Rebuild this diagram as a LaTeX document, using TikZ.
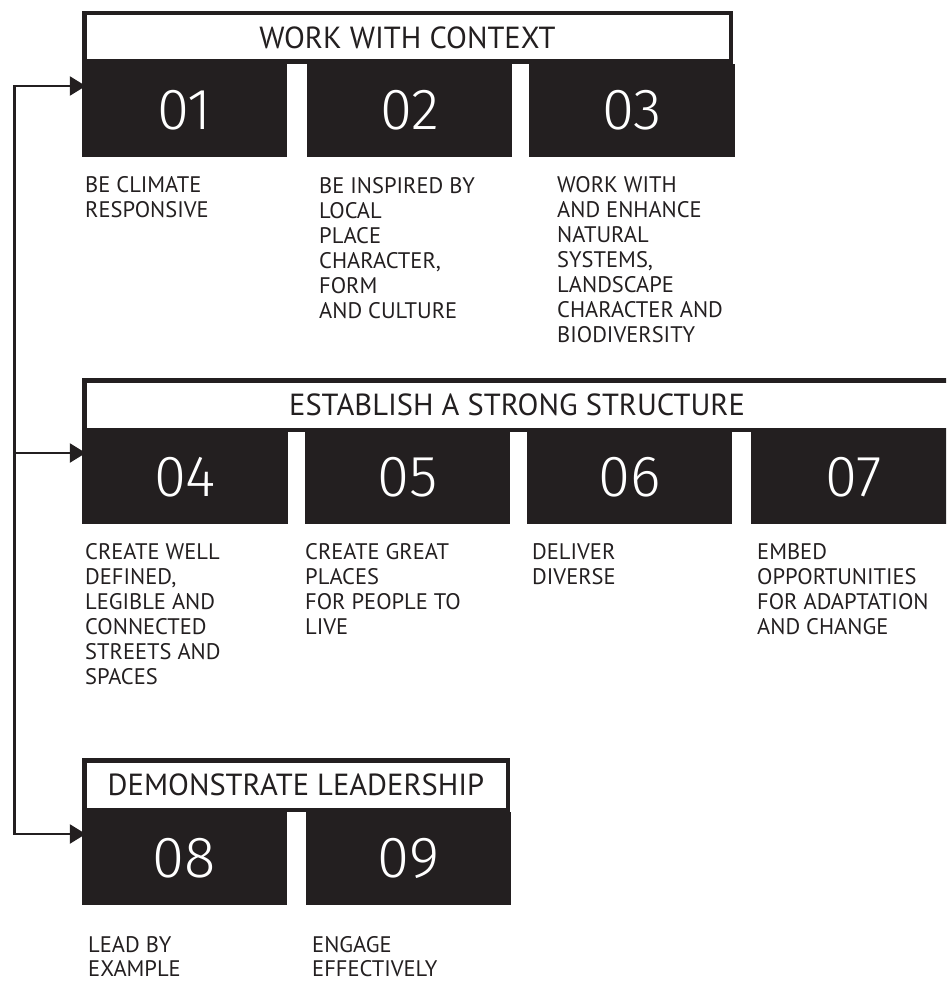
\documentclass[tikz,border=0pt]{standalone}
\usepackage{fontspec}
\setmainfont{PT Sans}
\newfontfamily\numfont{Fira Sans}[UprightFont=* Light]
\usetikzlibrary{arrows.meta}
\definecolor{ink}{HTML}{231F20}
\begin{document}
\begin{tikzpicture}[x=1pt,y=-1pt,
  hdr/.style={draw=ink, line width=4.5pt, fill=white, inner sep=0pt, text=ink, font=\fontsize{30.5}{36}\selectfont},
  numbox/.style={fill=ink, text=white, inner sep=0pt, minimum height=93pt, minimum width=205pt, font=\numfont\fontsize{58}{60}\selectfont},
  desc/.style={anchor=north west, inner sep=0pt, align=left, text=ink, font=\fontsize{22.5}{25}\selectfont},
  desc3/.style={desc, font=\fontsize{22.5}{24}\selectfont},
  link/.style={draw=ink, line width=2.5pt, line cap=rect},
  arr/.style={draw=ink, line width=2.5pt, -{Triangle[length=16pt,width=19pt]}, shorten >=-4pt}]
\clip (0,0) rectangle (946,982);
% row 1
\node[numbox] (b01) at (184.5,110.5) {01};
\node[numbox] (b02) at (409.5,110.5) {02};
\node[numbox, minimum width=206pt] (b03) at (632,110.5) {03};
\node[hdr, minimum width=646.5pt, minimum height=48.5pt] (h1) at (407.5,37.5) {WORK WITH CONTEXT};
\node[desc] (d01) at (85,176) {BE CLIMATE\\RESPONSIVE};
\node[desc] (d02) at (319,177) {BE INSPIRED BY\\LOCAL\\PLACE\\CHARACTER,\\FORM\\AND CULTURE};
\node[desc] (d03) at (557,176) {WORK WITH\\AND ENHANCE\\NATURAL\\SYSTEMS,\\LANDSCAPE\\CHARACTER AND\\BIODIVERSITY};
% row 2
\node[numbox, minimum height=92pt, minimum width=206pt] (b04) at (185,477.5) {04};
\node[numbox, minimum height=92pt] (b05) at (407.5,477.5) {05};
\node[numbox, minimum height=92pt] (b06) at (629.5,477.5) {06};
\node[numbox, minimum height=92pt, minimum width=206pt] (b07) at (854,477.5) {07};
\node[hdr, minimum width=865.5pt, minimum height=49.5pt] (h2) at (517,405) {ESTABLISH A STRONG STRUCTURE};
\node[desc] (d04) at (85,543) {CREATE WELL\\DEFINED,\\LEGIBLE AND\\CONNECTED\\STREETS AND\\SPACES};
\node[desc] (d05) at (305,543) {CREATE GREAT\\PLACES\\FOR PEOPLE TO\\LIVE};
\node[desc] (d06) at (532,543) {DELIVER\\DIVERSE};
\node[desc] (d07) at (757,543) {EMBED\\OPPORTUNITIES\\FOR ADAPTATION\\AND CHANGE};
% row 3
\node[numbox] (b08) at (184.5,858.5) {08};
\node[numbox] (b09) at (408.5,858.5) {09};
\node[hdr, minimum width=423.5pt, minimum height=49.5pt] (h3) at (296,785) {DEMONSTRATE LEADERSHIP};
\node[desc3] (d08) at (88,936) {LEAD BY\\EXAMPLE};
\node[desc3] (d09) at (312,936) {ENGAGE\\EFFECTIVELY};
% connectors
\coordinate (s1) at (14.5,86);
\coordinate (s2) at (14.5,453);
\coordinate (s3) at (14.5,834);
\draw[link] (s1) -- (s3);
\draw[arr] (s1) -- (s1 -| b01.west);
\draw[arr] (s2) -- (s2 -| b04.west);
\draw[arr] (s3) -- (s3 -| b08.west);
\end{tikzpicture}
\end{document}
